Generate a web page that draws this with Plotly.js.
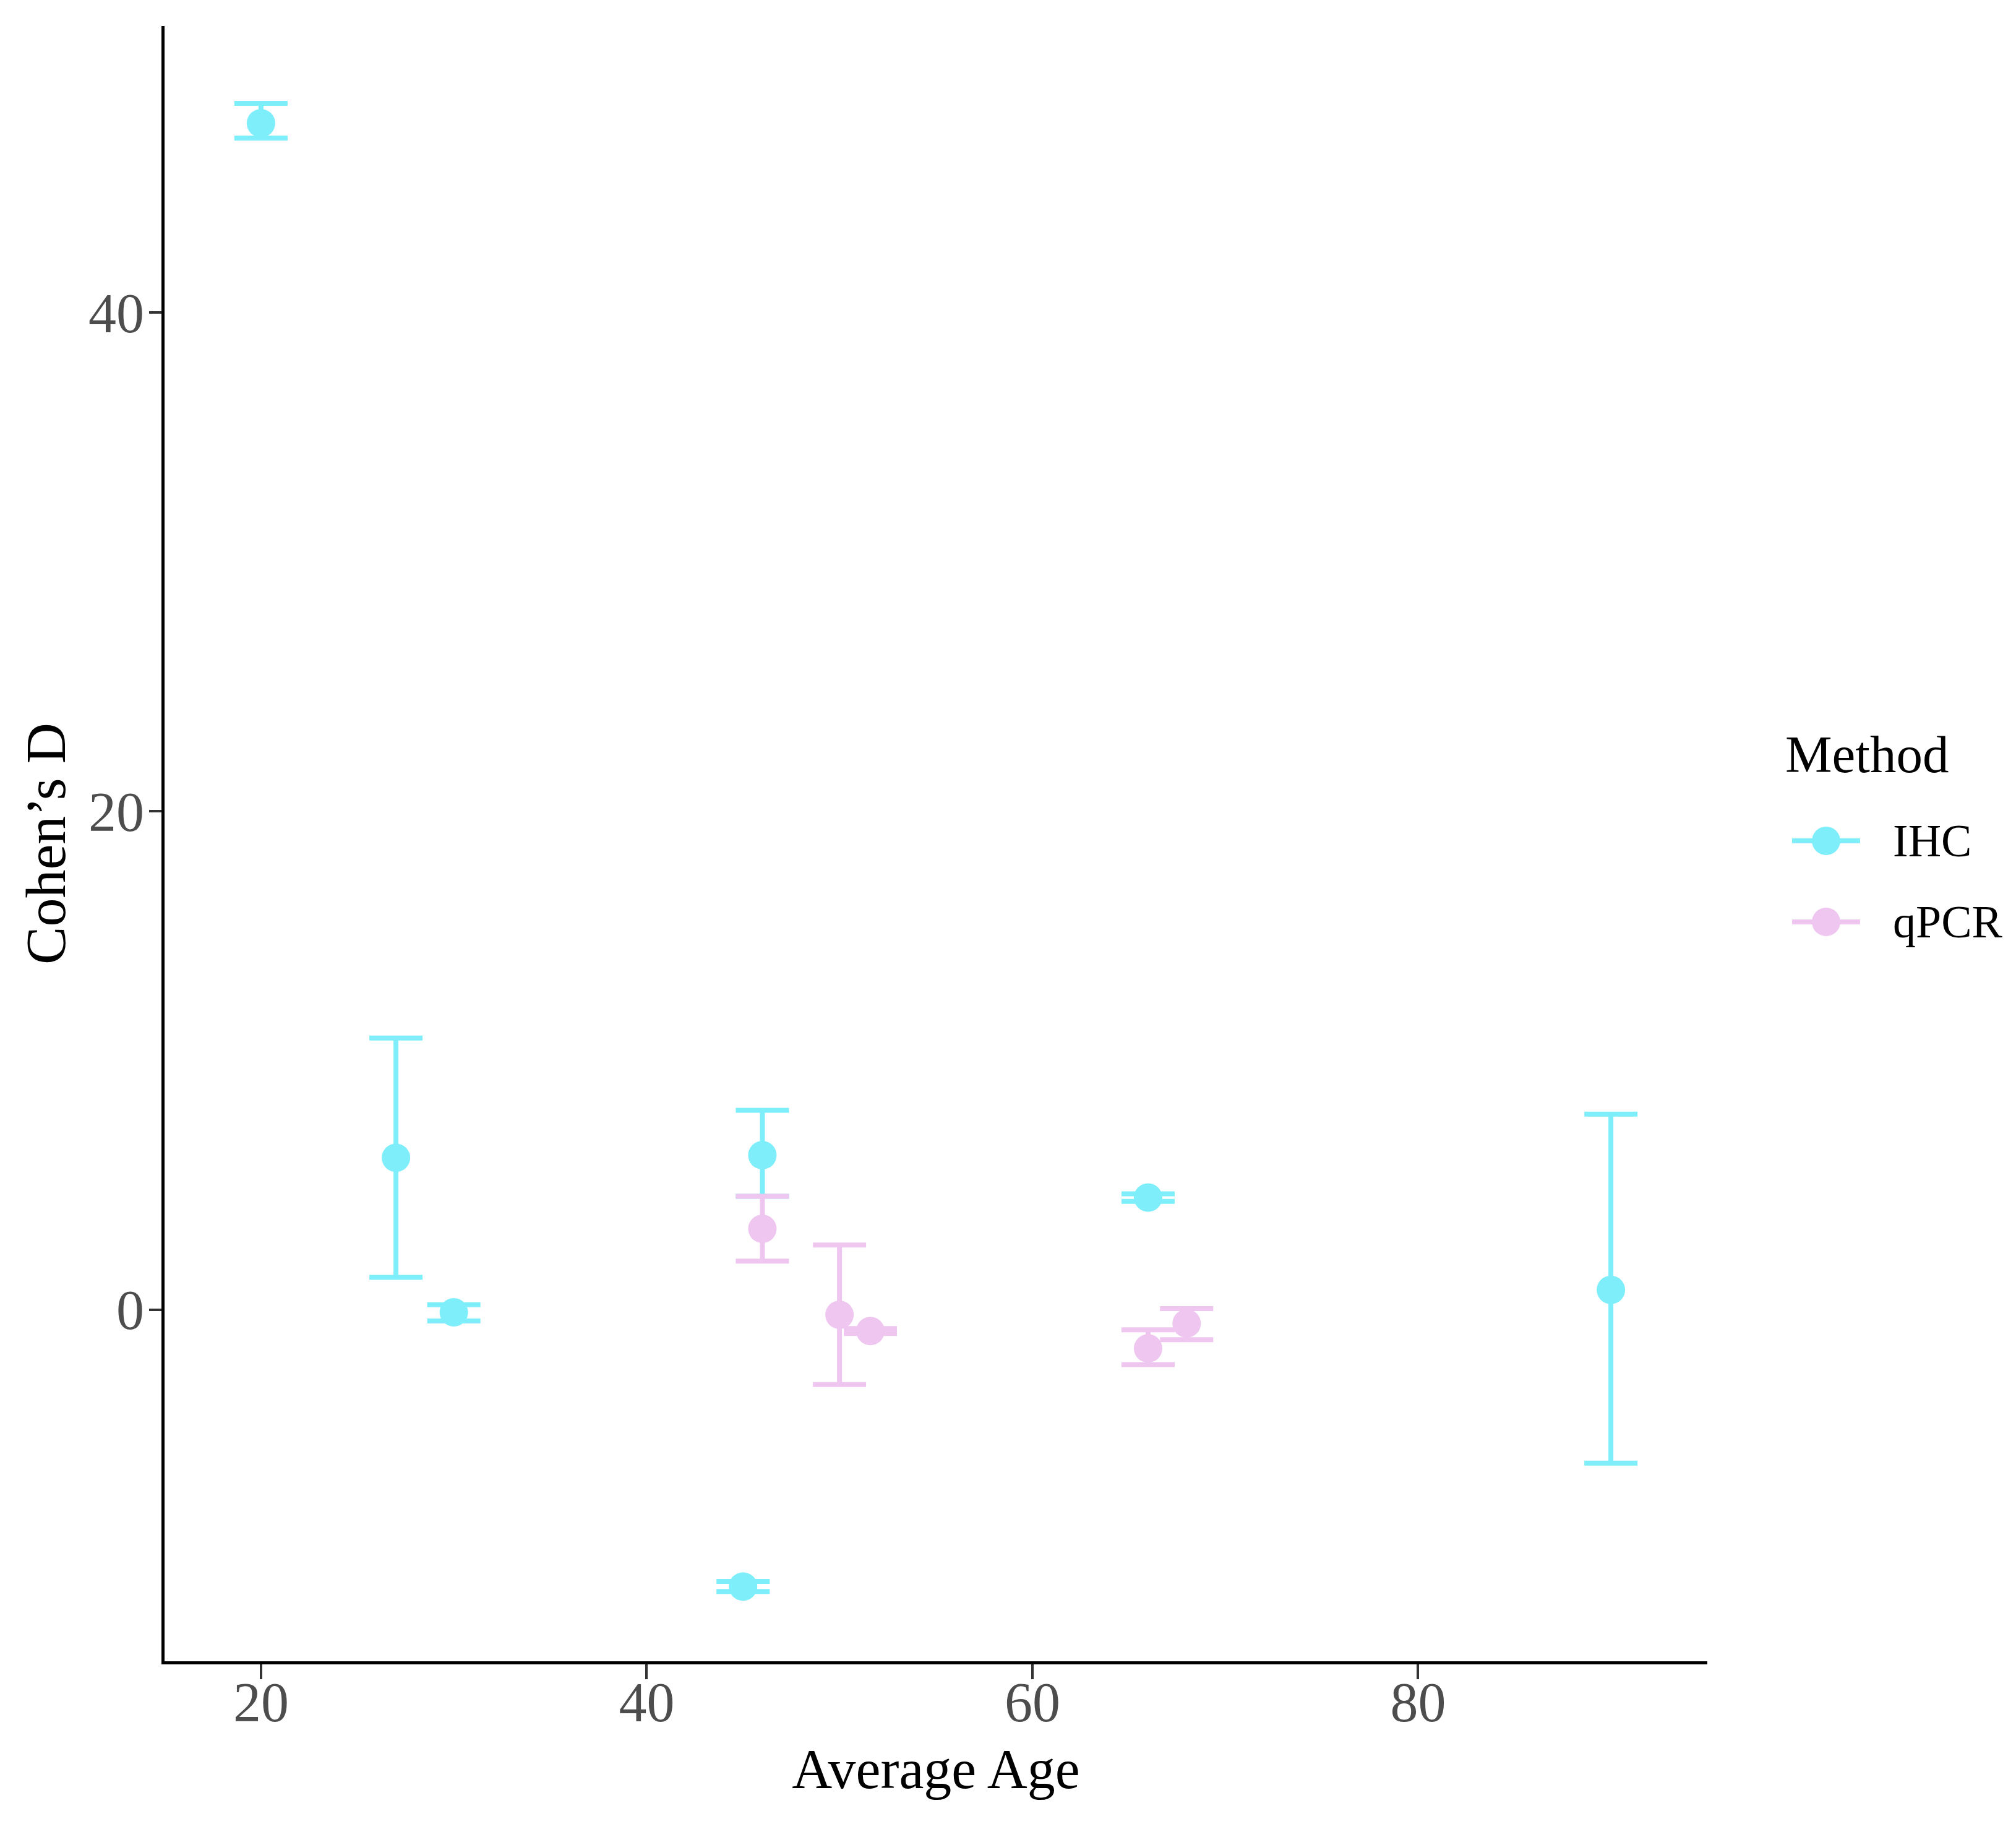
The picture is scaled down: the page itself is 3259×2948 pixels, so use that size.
<!DOCTYPE html>
<html>
<head>
<meta charset="utf-8">
<script src="https://cdn.plot.ly/plotly-3.0.1.min.js"></script>
<style>html,body{margin:0;padding:0;background:#fff;}#chart{width:3259px;height:2948px;}</style>
</head>
<body>
<div id="chart"></div>
<script>
// ---- data ----
const methods = ["IHC", "qPCR"];
const methodColors = ["#7EEFFA", "#EEC6F0"];

const ihcAge   = [20, 27, 30, 45, 46, 66, 90];
const ihcD     = [47.6, 6.1, -0.1, -11.1, 6.2, 4.5, 0.8];
const ihcUpper = [48.4, 10.9, 0.2, -10.9, 8.0, 4.65, 7.85];
const ihcLower = [47.0, 1.3, -0.45, -11.3, 4.55, 4.35, -6.15];

const qpcrAge   = [46, 50, 51.6, 66, 68];
const qpcrD     = [3.25, -0.2, -0.85, -1.55, -0.55];
const qpcrUpper = [4.55, 2.6, -0.75, -0.8, 0.05];
const qpcrLower = [1.95, -3.0, -0.95, -2.2, -1.2];

const xTicks = [20, 40, 60, 80];
const yTicks = [0, 20, 40];

// ---- build traces ----
function makeTrace(name, color, x, y, up, lo) {
  return {
    type: "scatter", mode: "markers", name: name,
    x: x, y: y,
    marker: {color: color, size: 46, line: {width: 0}},
    error_y: {
      type: "data", symmetric: false,
      array: y.map((v, i) => up[i] - v),
      arrayminus: y.map((v, i) => v - lo[i]),
      color: color, thickness: 8, width: 43
    },
    showlegend: false, cliponaxis: false
  };
}
const traces = [
  makeTrace(methods[0], methodColors[0], ihcAge, ihcD, ihcUpper, ihcLower),
  makeTrace(methods[1], methodColors[1], qpcrAge, qpcrD, qpcrUpper, qpcrLower)
];

// ---- manual legend (ggplot-style glyphs) ----
const font = "Liberation Serif, Times New Roman, serif";
const legendY = [0.5017, 0.4521];
const shapes = [];
const annotations = [{
  xref: "paper", yref: "paper", x: 1.0497, y: 0.5548,
  xanchor: "left", yanchor: "middle", showarrow: false,
  text: "Method", font: {family: font, size: 85, color: "#000"}
}];
methods.forEach((m, i) => {
  shapes.push({type: "line", xref: "paper", yref: "paper",
    x0: 1.0549, x1: 1.0990, y0: legendY[i], y1: legendY[i],
    line: {color: methodColors[i], width: 8}});
  shapes.push({type: "circle", xref: "paper", yref: "paper",
    xsizemode: "pixel", ysizemode: "pixel", xanchor: 1.077, yanchor: legendY[i],
    x0: -23, x1: 23, y0: -23, y1: 23,
    fillcolor: methodColors[i], line: {width: 0}});
  annotations.push({xref: "paper", yref: "paper", x: 1.1195, y: legendY[i],
    xanchor: "left", yanchor: "middle", showarrow: false,
    text: m, font: {family: font, size: 74, color: "#000"}});
});

const layout = {
  width: 3259, height: 2948,
  margin: {l: 266, r: 499, t: 42, b: 263},
  paper_bgcolor: "#fff", plot_bgcolor: "#fff",
  font: {family: font},
  showlegend: false,
  xaxis: {
    range: [15, 95], tickvals: xTicks, ticktext: xTicks.map(String),
    showgrid: false, zeroline: false,
    showline: true, linecolor: "#000", linewidth: 5,
    ticks: "outside", ticklen: 24, tickwidth: 4, tickcolor: "#333",
    ticklabelstandoff: -40,
    tickfont: {family: font, size: 90, color: "#4D4D4D"},
    title: {text: "Average Age", font: {family: font, size: 90, color: "#000"}, standoff: 28},
    automargin: false
  },
  yaxis: {
    range: [-14.1, 51.5], tickvals: yTicks, ticktext: yTicks.map(String),
    showgrid: false, zeroline: false,
    showline: true, linecolor: "#000", linewidth: 5,
    ticks: "outside", ticklen: 20, tickwidth: 4, tickcolor: "#333",
    ticklabelstandoff: -10,
    tickfont: {family: font, size: 90, color: "#4D4D4D"},
    title: {text: "Cohen’s D", font: {family: font, size: 92, color: "#000"}, standoff: 8},
    automargin: false
  },
  shapes: shapes,
  annotations: annotations
};

Plotly.newPlot("chart", traces, layout, {staticPlot: true, displayModeBar: false});
</script>
</body>
</html>
